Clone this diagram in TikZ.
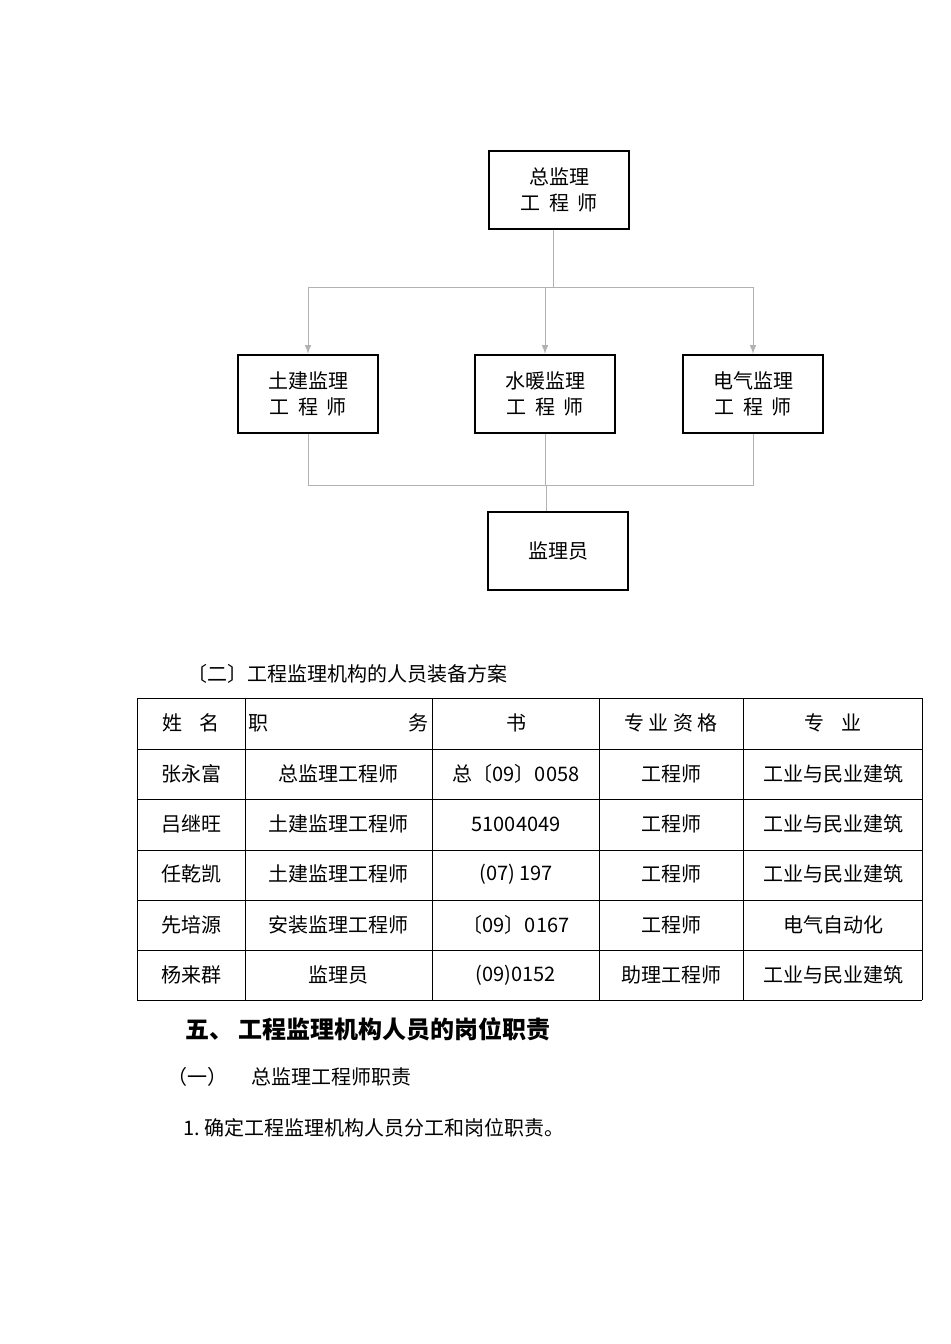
\documentclass[tikz,border=0pt]{standalone}
\usepackage{fontspec}
\setmainfont{Liberation Serif}
\newfontfamily\cjk{Noto Sans CJK SC}
\usetikzlibrary{positioning}
\begin{document}
\begin{tikzpicture}[x=0.5pt, y=-0.5pt, >=latex, font=\cjk\fontsize{10}{13}\selectfont]
	\tikzset{post/.style={draw, line width=1.2pt, minimum width=70pt, minimum height=39pt, align=center},
		link/.style={draw=gray!60, line width=0.5pt},
		cell/.style={anchor=center}}
	\useasboundingbox (0,0) rectangle (950,1344);
	
	\node [post] (chief) at (559,190) {总监理\\工\ \ 程\ \ 师};
	\node [post] (civil) at (308,394) {土建监理\\工\ \ 程\ \ 师};
	\node [post] (hvac) at (545,394) {水暖监理\\工\ \ 程\ \ 师};
	\node [post] (elec) at (753,394) {电气监理\\工\ \ 程\ \ 师};
	\node [post] (staff) at (558,551) {监理员};
	
	\coordinate (top-bus) at (553,287);
	\coordinate (low-bus) at (546,485);
	\draw [link] (chief.south -| top-bus) -- (top-bus);
	\foreach \n in {civil,hvac,elec}
	\draw [link, ->] (top-bus) -| (\n.north);
	\foreach \n in {civil,hvac,elec}
	\draw [link] (\n.south) |- (low-bus);
	\draw [link] (low-bus) -- (staff.north -| low-bus);
	
	\node [anchor=west] (caption) at (180,674) {〔二〕工程监理机构的人员装备方案};
	
	% table grid
	\foreach \x in {137,245,432,599,743,922}
	\draw [line width=0.5pt] (\x,698) -- (\x,1000);
	\foreach \y in {698,749,799,850,900,950,1000}
	\draw [line width=0.5pt] (137,\y) -- (922,\y);
	
	\foreach \a/\b/\c/\d/\e [count=\r] in {
		姓\ \ \ \ 名/职\hspace{70pt}务/书/专\ 业\ 资\ 格/专\ \ \ \ 业,
		张永富/总监理工程师/总〔09〕0058/工程师/工业与民业建筑,
		吕继旺/土建监理工程师/51004049/工程师/工业与民业建筑,
		任乾凯/土建监理工程师/(07)\ 197/工程师/工业与民业建筑,
		先培源/安装监理工程师/〔09〕0167/工程师/电气自动化,
		杨来群/监理员/(09)0152/助理工程师/工业与民业建筑}
	{
		\node [cell] (name-\r) at (191,673+\r*50.3) {\a};
		\node [cell] (job-\r) at (338,673+\r*50.3) {\b};
		\node [cell] (cert-\r) at (516,673+\r*50.3) {\c};
		\node [cell] (rank-\r) at (671,673+\r*50.3) {\d};
		\node [cell] (field-\r) at (833,673+\r*50.3) {\e};
	}
	
	\node [anchor=west, font=\cjk\bfseries\fontsize{12}{14}\selectfont] (heading) at (178,1029) {五、\ 工程监理机构人员的岗位职责};
	\node [anchor=west] (sub) at (160,1077) {（一）\quad\ 总监理工程师职责};
	\node [anchor=west] (item) at (176,1128) {1.\ 确定工程监理机构人员分工和岗位职责。};
\end{tikzpicture}
\end{document}
